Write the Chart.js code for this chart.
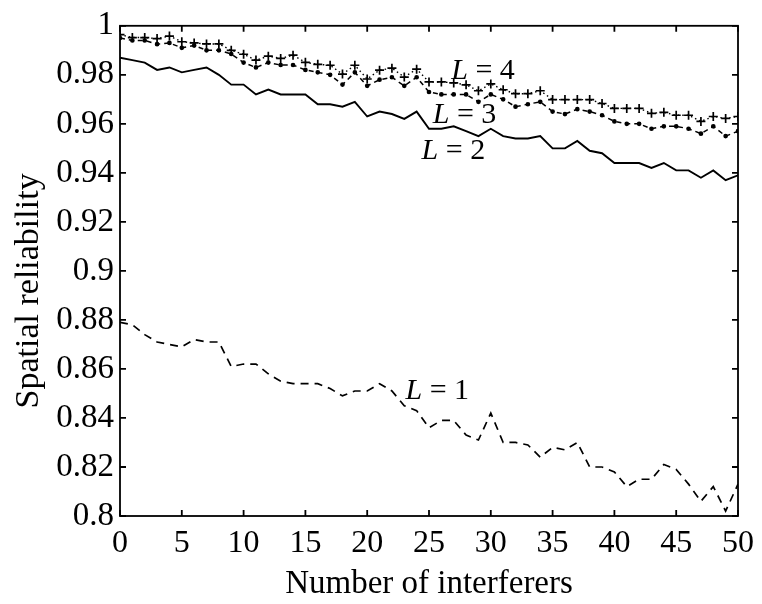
<!DOCTYPE html>
<html>
<head>
<meta charset="utf-8">
<script src="https://cdn.jsdelivr.net/npm/chart.js@4.4.1/dist/chart.umd.min.js"></script>
<style>
  html, body { margin: 0; padding: 0; background: #fff; }
  #chart { display: block; }
</style>
</head>
<body>
<canvas id="chart" width="762" height="604"></canvas>
<script>
// number of interferers (x)
const interferers = [0, 1, 2, 3, 4, 5, 6, 7, 8, 9, 10, 11, 12, 13, 14, 15, 16, 17, 18, 19, 20,
  21, 22, 23, 24, 25, 26, 27, 28, 29, 30, 31, 32, 33, 34, 35, 36, 37, 38, 39, 40,
  41, 42, 43, 44, 45, 46, 47, 48, 49, 50];

// spatial reliability
const relL1 = [0.879, 0.878, 0.874, 0.871, 0.870, 0.869, 0.872, 0.871, 0.871, 0.861,
  0.862, 0.862, 0.858, 0.855, 0.854, 0.854, 0.854, 0.852, 0.849, 0.851,
  0.851, 0.854, 0.851, 0.845, 0.843, 0.836, 0.839, 0.839, 0.833, 0.831,
  0.842, 0.830, 0.830, 0.829, 0.824, 0.828, 0.827, 0.830, 0.820, 0.820,
  0.818, 0.812, 0.815, 0.815, 0.821, 0.819, 0.813, 0.806, 0.812, 0.802, 0.813];
const relL2 = [0.987, 0.986, 0.985, 0.982, 0.983, 0.981, 0.982, 0.983, 0.980, 0.976,
  0.976, 0.972, 0.974, 0.972, 0.972, 0.972, 0.968, 0.968, 0.967, 0.969,
  0.963, 0.965, 0.964, 0.962, 0.965, 0.958, 0.958, 0.959, 0.957, 0.955,
  0.958, 0.955, 0.954, 0.954, 0.955, 0.950, 0.950, 0.953, 0.949, 0.948,
  0.944, 0.944, 0.944, 0.942, 0.944, 0.941, 0.941, 0.938, 0.941, 0.937, 0.939];
const relL3 = [0.995, 0.994, 0.994, 0.9925, 0.993, 0.991, 0.992, 0.990, 0.990, 0.9885,
  0.985, 0.983, 0.985, 0.984, 0.984, 0.982, 0.981, 0.980, 0.976, 0.981,
  0.9755, 0.978, 0.979, 0.9755, 0.979, 0.973, 0.972, 0.972, 0.972, 0.969,
  0.972, 0.970, 0.967, 0.968, 0.969, 0.965, 0.964, 0.966, 0.965, 0.9635,
  0.961, 0.960, 0.960, 0.958, 0.959, 0.959, 0.958, 0.956, 0.959, 0.955, 0.957];
const relL4 = [0.9964, 0.9952, 0.9952, 0.9948, 0.9958, 0.9935, 0.993, 0.9926, 0.9926, 0.990,
  0.9884, 0.986, 0.9876, 0.9867, 0.988, 0.9851, 0.9843, 0.9839, 0.9803, 0.9839,
  0.9783, 0.9819, 0.9827, 0.9791, 0.9823, 0.9771, 0.9771, 0.9767, 0.9759, 0.9735,
  0.9763, 0.9739, 0.9723, 0.9723, 0.9735, 0.9699, 0.9699, 0.9699, 0.9699, 0.9683,
  0.9663, 0.9663, 0.9663, 0.9643, 0.9647, 0.9635, 0.9635, 0.961, 0.963, 0.9622, 0.963];

// in-plot labels "L = n" (x, baseline y in data units)
const labelText = ['1', '2', '3', '4'];
const labelX = [23.1, 24.4, 25.3, 26.8];
const labelY = [0.8478, 0.9458, 0.9602, 0.9783];

const yTitle = 'Spatial reliability';
const serif = "'Liberation Serif', 'Times New Roman', serif";

function points(vals) {
  return interferers.map((x, i) => ({ x: x, y: vals[i] }));
}

// box around the plot with inward ticks on all four sides, the L labels, y title
const frameTicks = {
  id: 'frameTicks',
  afterDatasetsDraw(chart) {
    const { ctx, chartArea: a, scales: { x, y } } = chart;
    ctx.save();
    ctx.strokeStyle = '#000';
    ctx.lineWidth = 1.8;
    ctx.strokeRect(a.left, a.top, a.right - a.left, a.bottom - a.top);
    const len = 6;
    ctx.beginPath();
    x.ticks.forEach(t => {
      const px = x.getPixelForValue(t.value);
      ctx.moveTo(px, a.bottom); ctx.lineTo(px, a.bottom - len);
      ctx.moveTo(px, a.top); ctx.lineTo(px, a.top + len);
    });
    y.ticks.forEach(t => {
      const py = y.getPixelForValue(t.value);
      ctx.moveTo(a.left, py); ctx.lineTo(a.left + len, py);
      ctx.moveTo(a.right, py); ctx.lineTo(a.right - len, py);
    });
    ctx.stroke();

    ctx.fillStyle = '#000';
    ctx.textBaseline = 'alphabetic';
    ctx.textAlign = 'left';
    labelText.forEach((txt, i) => {
      const px = x.getPixelForValue(labelX[i]);
      const py = y.getPixelForValue(labelY[i]);
      ctx.font = 'italic 30px ' + serif;
      ctx.fillText('L', px, py);
      const w = ctx.measureText('L').width;
      ctx.font = '30px ' + serif;
      ctx.fillText(' = ' + txt, px + w, py);
    });

    // y axis title, a little below the middle of the plot as in the original
    ctx.font = '34px ' + serif;
    ctx.textAlign = 'center';
    ctx.textBaseline = 'middle';
    ctx.translate(29, (a.top + a.bottom) / 2 + 20);
    ctx.rotate(-Math.PI / 2);
    ctx.fillText(yTitle, 0, 0);
    ctx.restore();
  }
};

new Chart(document.getElementById('chart'), {
  type: 'line',
  data: {
    datasets: [
      {
        label: 'L = 1',
        data: points(relL1),
        borderColor: '#000',
        borderWidth: 1.7,
        borderDash: [8, 6],
        pointRadius: 0,
        tension: 0
      },
      {
        label: 'L = 2',
        data: points(relL2),
        borderColor: '#000',
        borderWidth: 1.9,
        pointRadius: 0,
        tension: 0
      },
      {
        label: 'L = 3',
        data: points(relL3),
        borderColor: '#000',
        borderWidth: 1.5,
        borderDash: [5, 4],
        pointRadius: 1.6,
        pointStyle: 'circle',
        pointBackgroundColor: '#000',
        pointBorderColor: '#000',
        tension: 0
      },
      {
        label: 'L = 4',
        data: points(relL4),
        borderColor: '#000',
        borderWidth: 1.4,
        borderDash: [1.5, 3],
        pointRadius: 4.5,
        pointStyle: 'cross',
        pointBorderColor: '#000',
        pointBorderWidth: 1.7,
        tension: 0
      }
    ]
  },
  options: {
    responsive: false,
    animation: false,
    devicePixelRatio: 1,
    layout: { padding: { left: 0, right: 20, top: 18, bottom: 0 } },
    plugins: {
      legend: { display: false },
      tooltip: { enabled: false }
    },
    scales: {
      x: {
        type: 'linear',
        min: 0,
        max: 50,
        grid: { display: false, drawTicks: false },
        border: { display: false },
        ticks: {
          stepSize: 5,
          padding: 8,
          color: '#000',
          font: { family: serif, size: 32 },
          maxRotation: 0
        },
        title: {
          display: true,
          text: 'Number of interferers',
          color: '#000',
          font: { family: serif, size: 33 },
          padding: { top: 0, bottom: 0 }
        },
        afterFit(scale) { scale.height = 88; }
      },
      y: {
        type: 'linear',
        min: 0.8,
        max: 1,
        grid: { display: false, drawTicks: false },
        border: { display: false },
        ticks: {
          stepSize: 0.02,
          padding: 6,
          color: '#000',
          font: { family: serif, size: 33 },
          callback: v => String(Number(v.toFixed(2)))
        },
        afterFit(scale) { scale.width = 120; }
      }
    }
  },
  plugins: [frameTicks]
});
</script>
</body>
</html>
